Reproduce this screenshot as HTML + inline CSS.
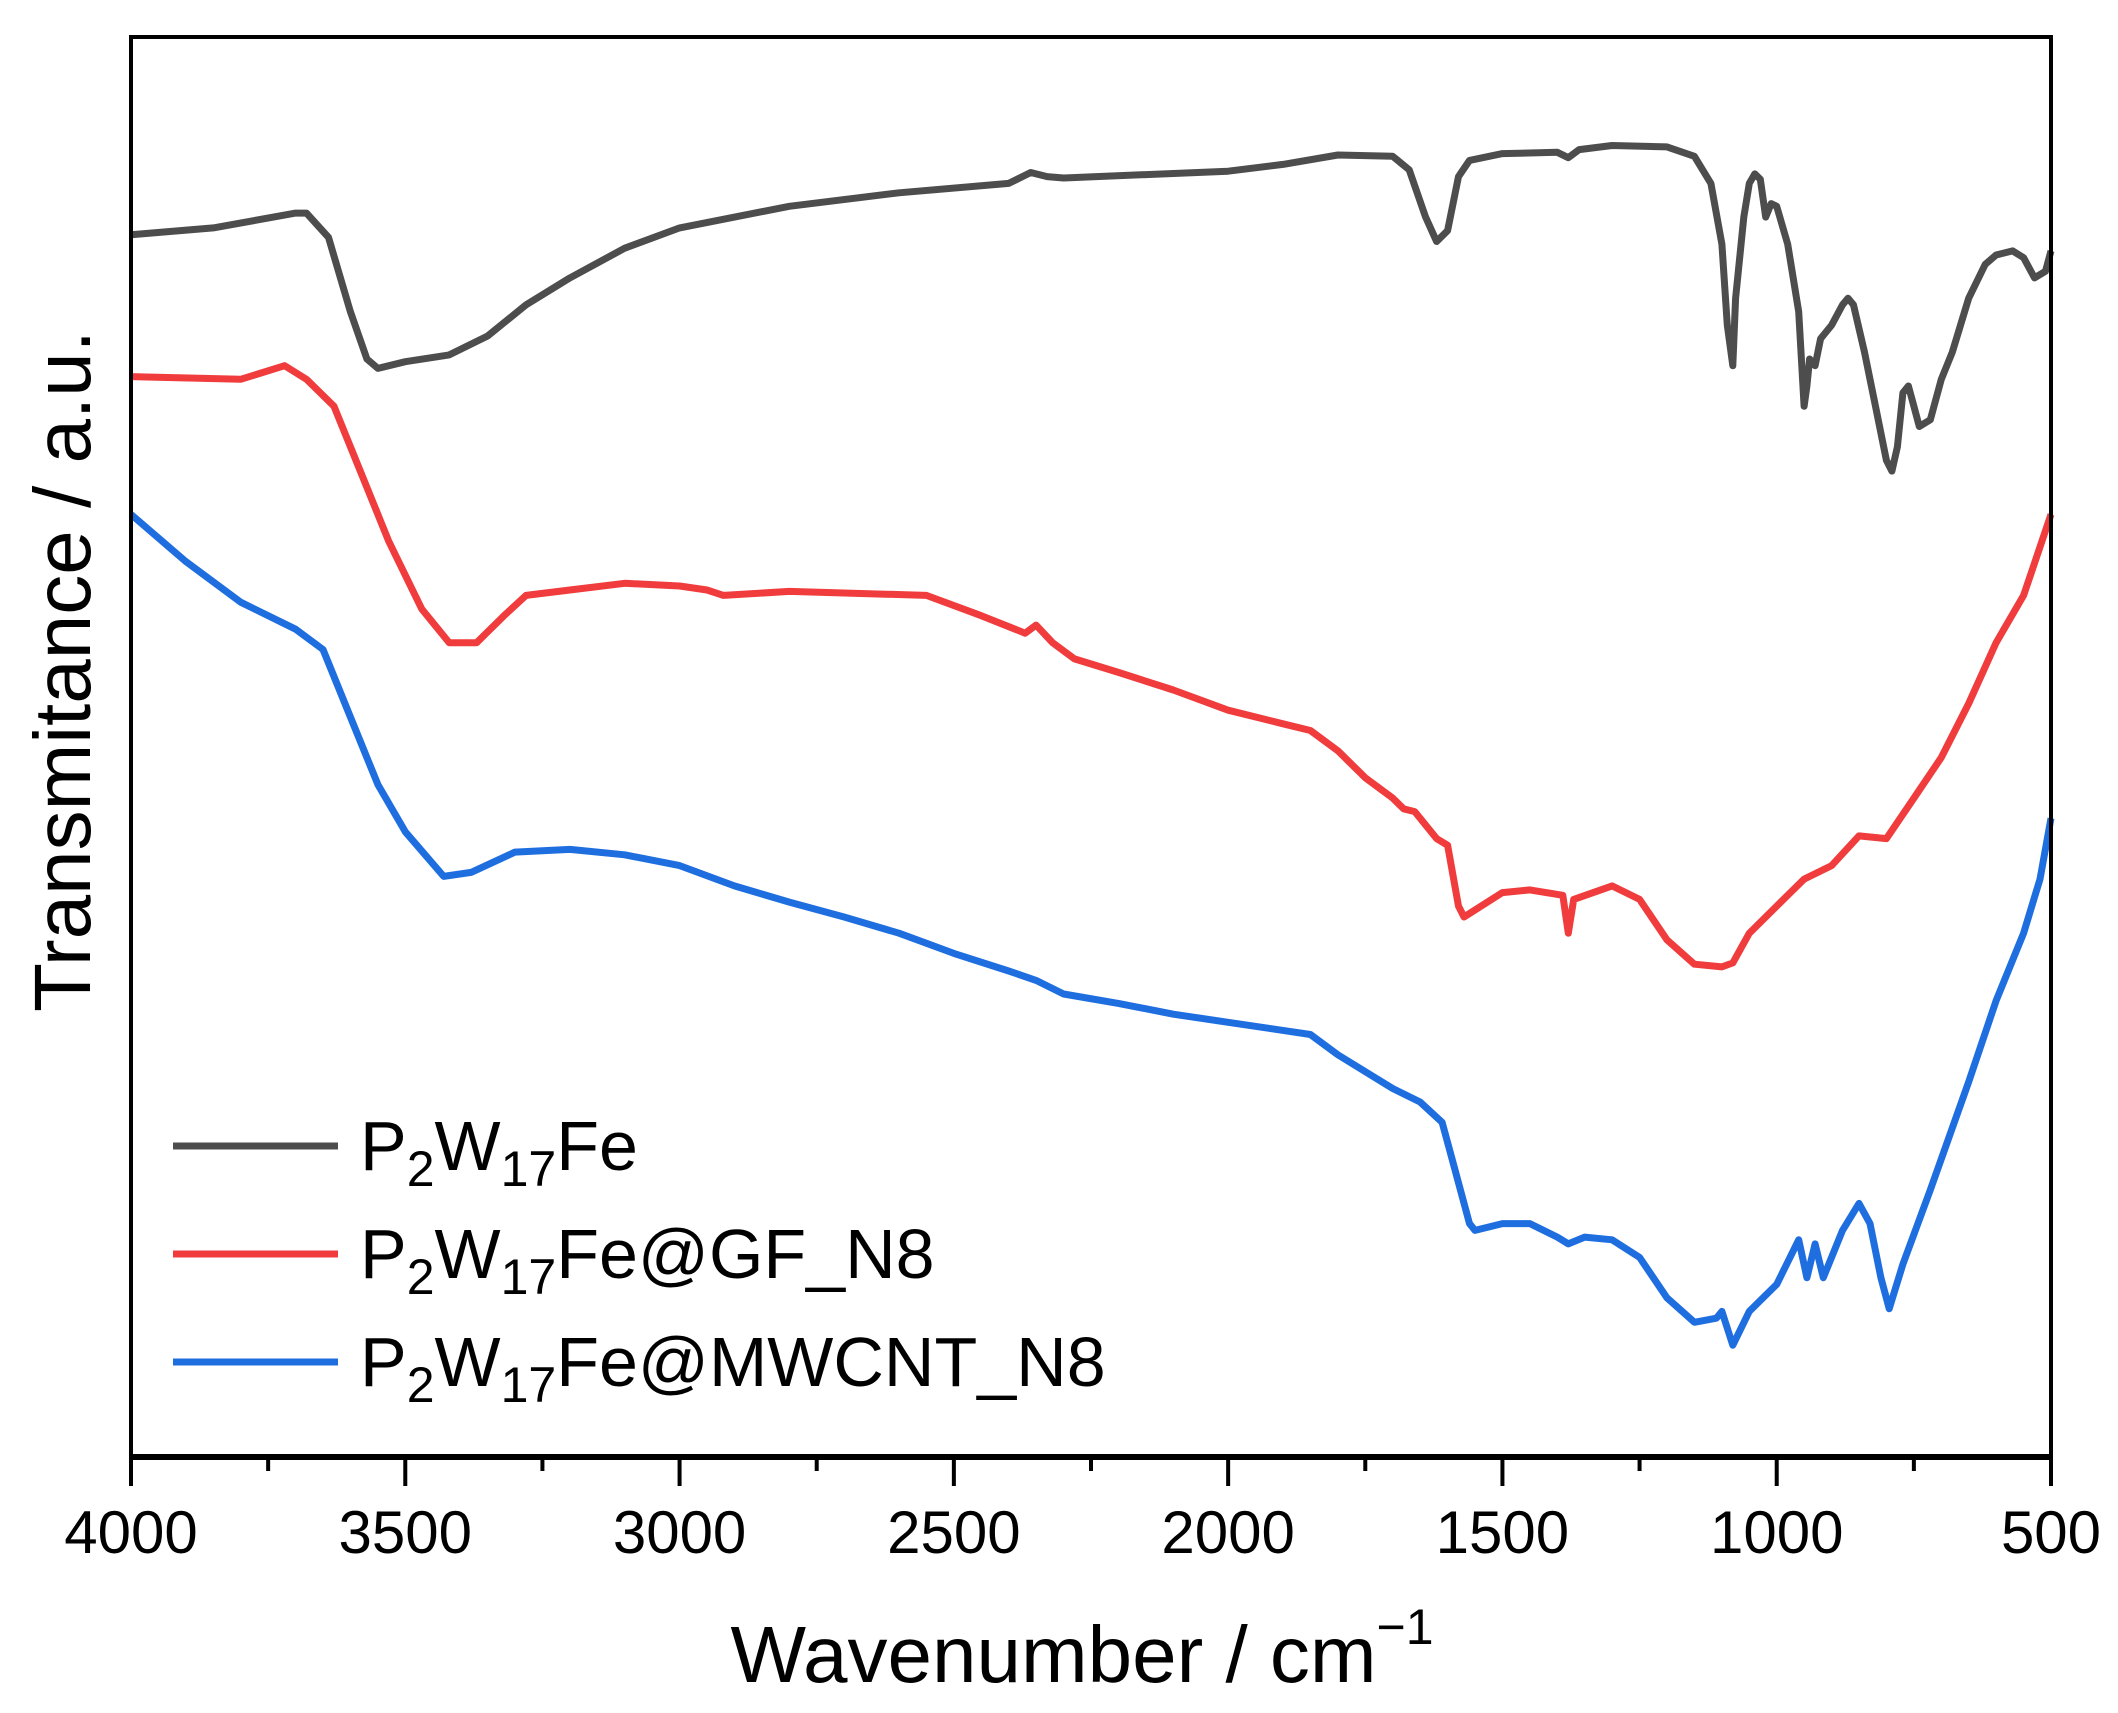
<!DOCTYPE html>
<html><head><meta charset="utf-8"><style>
html,body{margin:0;padding:0;background:#fff}
svg{display:block;font-family:"Liberation Sans",Arial,sans-serif}
</style></head><body>
<svg id="chart" width="2118" height="1713" viewBox="0 0 2118 1713" xmlns="http://www.w3.org/2000/svg">
<rect width="2118" height="1713" fill="#fff"/>
<g id="series"></g>
<rect x="131" y="37" width="1920" height="1419" fill="none" stroke="#000" stroke-width="4"/>
<line x1="129" y1="1457" x2="2053" y2="1457" stroke="#000" stroke-width="6"/>
<g id="xticks"></g>
<text x="1082" y="1682" font-size="80" text-anchor="middle">Wavenumber / cm<tspan font-size="50" dy="-38">−1</tspan></text>
<text transform="translate(90,671) rotate(-90)" font-size="80" text-anchor="middle">Transmitance / a.u.</text>
<g>
<line x1="173" y1="1146" x2="338" y2="1146" stroke="#4d4d4d" stroke-width="7"/>
<text x="360" y="1170" font-size="70">P<tspan font-size="50" dy="16">2</tspan><tspan dy="-16">W</tspan><tspan font-size="50" dy="16">17</tspan><tspan dy="-16">Fe</tspan></text>
<line x1="173" y1="1254" x2="338" y2="1254" stroke="#f03c3c" stroke-width="7"/>
<text x="360" y="1278" font-size="70">P<tspan font-size="50" dy="16">2</tspan><tspan dy="-16">W</tspan><tspan font-size="50" dy="16">17</tspan><tspan dy="-16">Fe@GF_N8</tspan></text>
<line x1="173" y1="1362" x2="338" y2="1362" stroke="#1f6ee0" stroke-width="7"/>
<text x="360" y="1386" font-size="70">P<tspan font-size="50" dy="16">2</tspan><tspan dy="-16">W</tspan><tspan font-size="50" dy="16">17</tspan><tspan dy="-16">Fe@MWCNT_N8</tspan></text>
</g>
</svg>
<script>
const xTicks=[4000,3500,3000,2500,2000,1500,1000,500];
const xMinor=[3750,3250,2750,2250,1750,1250,750];
const grayWn=[4000,3850,3700,3680,3640,3600,3570,3550,3500,3420,3350,3280,3200,3100,3000,2800,2600,2400,2360,2330,2300,2000,1900,1800,1700,1670,1640,1620,1600,1580,1560,1500,1400,1380,1360,1300,1200,1150,1120,1100,1090,1080,1075,1060,1050,1040,1030,1020,1010,1000,980,960,950,945,940,930,920,900,880,870,860,840,820,800,790,780,770,760,750,740,720,700,680,650,620,600,570,550,530,510,500];
const grayT=[173,168,157,157,175,230,265,272,267,262,248,225,205,183,168,152,142,135,127,130,131,126,121,114,115,125,160,178,170,130,118,113,112,116,110,107,108,115,135,180,240,270,220,160,135,128,132,160,150,152,180,230,300,285,265,270,250,240,225,220,225,260,300,340,348,330,290,285,300,315,310,280,260,220,195,188,185,190,205,200,185];
const redWn=[4000,3800,3720,3680,3630,3580,3530,3470,3420,3370,3320,3280,3200,3100,3000,2950,2920,2800,2550,2450,2370,2350,2320,2280,2200,2100,2000,1900,1850,1800,1750,1700,1680,1660,1620,1600,1580,1570,1500,1450,1390,1380,1370,1300,1250,1200,1150,1100,1080,1050,1000,950,900,850,800,750,700,650,600,550,500];
const redT=[278,280,270,280,300,350,400,450,475,475,455,440,436,431,433,436,440,437,440,455,468,462,475,487,497,510,525,535,540,555,575,590,598,600,620,625,670,678,660,658,662,690,665,655,665,695,713,715,712,690,670,650,640,618,620,590,560,520,475,440,380];
const blueWn=[4000,3900,3800,3700,3650,3600,3550,3500,3430,3380,3300,3200,3100,3000,2900,2800,2700,2600,2500,2400,2350,2300,2200,2100,2000,1900,1850,1800,1700,1650,1610,1590,1560,1550,1500,1450,1400,1380,1350,1300,1250,1200,1150,1110,1100,1080,1050,1000,960,945,930,915,880,850,830,810,795,770,720,650,600,550,520,500];
const blueT=[380,415,445,465,480,530,580,615,648,645,630,628,632,640,655,667,678,690,705,718,725,735,742,750,756,762,765,780,805,815,830,860,905,910,905,905,915,920,915,917,930,960,978,975,970,995,970,950,917,945,920,945,910,890,905,945,968,935,880,800,740,690,650,605];
const toAU=t=>(1077-t)/10;
const gray=grayT.map(toAU), red=redT.map(toAU), blue=blueT.map(toAU);
const X0=131,X1=2051,Y0=1456,Ysc=13.51;
const xs=w=>X0+(4000-w)/3500*(X1-X0);
const ys=v=>Y0-v*Ysc;
const NS="http://www.w3.org/2000/svg";
const g=document.getElementById('series');
function draw(wn,vals,color,name){
  const p=document.createElementNS(NS,'path');
  p.setAttribute('d',wn.map((w,i)=>(i?'L':'M')+xs(w).toFixed(1)+','+ys(vals[i]).toFixed(1)).join(''));
  p.setAttribute('fill','none');p.setAttribute('stroke',color);p.setAttribute('stroke-width','7');
  p.setAttribute('stroke-linejoin','round');
  
  
  g.appendChild(p);
}
draw(grayWn,gray,'#4d4d4d','series-p2w17fe');
draw(redWn,red,'#f03c3c','series-p2w17fe-gf');
draw(blueWn,blue,'#1f6ee0','series-p2w17fe-mwcnt');
const t=document.getElementById('xticks');
xTicks.forEach(w=>{
  const l=document.createElementNS(NS,'line');
  l.setAttribute('x1',xs(w));l.setAttribute('x2',xs(w));l.setAttribute('y1',1457);l.setAttribute('y2',1486);
  l.setAttribute('stroke','#000');l.setAttribute('stroke-width','4');
  
  
  t.appendChild(l);
  const tx=document.createElementNS(NS,'text');
  tx.setAttribute('x',xs(w));tx.setAttribute('y',1553);tx.setAttribute('font-size','60');tx.setAttribute('text-anchor','middle');
  tx.textContent=w;
  
  
  t.appendChild(tx);
});
xMinor.forEach(w=>{
  const l=document.createElementNS(NS,'line');
  l.setAttribute('x1',xs(w));l.setAttribute('x2',xs(w));l.setAttribute('y1',1457);l.setAttribute('y2',1471);
  l.setAttribute('stroke','#000');l.setAttribute('stroke-width','4');
  
  
  t.appendChild(l);
});
</script>
</body></html>
